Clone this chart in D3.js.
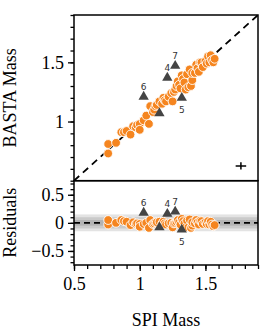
<!DOCTYPE html>
<html><head><meta charset="utf-8">
<script src="https://cdn.jsdelivr.net/npm/d3@7"></script>
<style>body{margin:0;background:#fff}svg{display:block}</style>
</head><body>
<svg id="c" width="274" height="335"></svg>
<script>
// ---- data ----
const spiMass = [0.76,0.76,0.82,0.86,0.88,0.90,0.93,0.95,0.97,0.98,1.00,1.00,1.03,1.05,1.07,1.08,1.10,1.11,1.12,1.13,1.15,1.17,1.18,1.19,1.20,1.22,1.24,1.25,1.26,1.27,1.28,1.29,1.30,1.31,1.32,1.33,1.34,1.35,1.36,1.37,1.38,1.39,1.40,1.40,1.42,1.43,1.44,1.45,1.46,1.47,1.48,1.50,1.51,1.52,1.53,1.54,1.55,1.56,1.57];
const bastaMass = [0.73,0.81,0.82,0.91,0.91,0.92,0.89,0.96,0.95,0.97,0.98,0.93,1.01,1.05,0.98,1.13,1.08,1.10,1.13,1.14,1.17,1.15,1.20,1.18,1.17,1.21,1.24,1.17,1.25,1.27,1.30,1.34,1.31,1.28,1.39,1.36,1.33,1.27,1.40,1.29,1.44,1.30,1.35,1.41,1.41,1.48,1.45,1.42,1.50,1.50,1.46,1.51,1.49,1.55,1.50,1.56,1.52,1.50,1.53];
const outlierSpi = [1.21, 1.32, 1.03, 1.27, 1.15];
const outlierBasta = [1.37, 1.20, 1.21, 1.47, 1.07];
const outlierLabels = ["4", "5", "6", "7", ""];
const typicalErr = {x: 1.77, y: 0.625, ex: 0.04, ey: 0.031};
const xMajor = [0.5, 1, 1.5];
const yMajor = [1, 1.5];
const rMajor = [-0.5, 0, 0.5];
const bandWidths = [0.15, 0.1, 0.05];

// ---- styles / layout ----
const L = 74, R = 258, T1 = 15, B1 = 180.7, B2 = 265;
const orange = "#f5851f", dark = "#444444";
const labelBelow = {"5": true};
const serif = "'Liberation Serif','Times New Roman',serif";

const svg = d3.select("#c");
const x = d3.scaleLinear([0.5, 1.9], [L, R]);
const y = d3.scaleLinear([0.5, 1.9], [B1, T1]);
const yr = d3.scaleLinear([-0.75, 0.75], [B2, B1]);

const pts = spiMass.map((s, i) => ({s, b: bastaMass[i], r: bastaMass[i] - s}));
const outs = outlierSpi.map((s, i) => ({s, b: outlierBasta[i], r: outlierBasta[i] - s, lab: outlierLabels[i]}));

const defs = svg.append("defs");
defs.append("clipPath").attr("id","c1").append("rect").attr("x",L).attr("y",T1).attr("width",R-L).attr("height",B1-T1);
defs.append("clipPath").attr("id","c2").append("rect").attr("x",L).attr("y",B1).attr("width",R-L).attr("height",B2-B1);

const rad = 4.4;
// ---- top panel ----
const g1 = svg.append("g").attr("clip-path","url(#c1)");
g1.append("line").attr("x1",x(0.5)).attr("y1",y(0.5)).attr("x2",x(1.9)).attr("y2",y(1.9))
  .attr("stroke","#000").attr("stroke-width",1.8).attr("stroke-dasharray","7,5");
g1.selectAll("circle").data(pts).join("circle")
  .attr("cx",d=>x(d.s)).attr("cy",d=>y(d.b)).attr("r",rad)
  .attr("fill",orange).attr("stroke","#fff").attr("stroke-width",0.9);
const tri = d3.symbol().type(d3.symbolTriangle).size(46);
g1.selectAll("path.t").data(outs).join("path").attr("class","t")
  .attr("transform",d=>`translate(${x(d.s)},${y(d.b)})`).attr("d",tri).attr("fill",dark);
g1.selectAll("text.l").data(outs).join("text").attr("class","l")
  .attr("x",d=>x(d.s)).attr("y",d=>y(d.b)+(labelBelow[d.lab]?15:-7))
  .attr("text-anchor","middle").attr("font-family","'DejaVu Sans',sans-serif").attr("font-size",9)
  .attr("fill","#333").text(d=>d.lab);
g1.append("line").attr("x1",x(typicalErr.x-typicalErr.ex)).attr("x2",x(typicalErr.x+typicalErr.ex))
  .attr("y1",y(typicalErr.y)).attr("y2",y(typicalErr.y)).attr("stroke","#000").attr("stroke-width",1.5);
g1.append("line").attr("x1",x(typicalErr.x)).attr("x2",x(typicalErr.x))
  .attr("y1",y(typicalErr.y-typicalErr.ey)).attr("y2",y(typicalErr.y+typicalErr.ey)).attr("stroke","#000").attr("stroke-width",1.5);

// ---- residual panel ----
const g2 = svg.append("g").attr("clip-path","url(#c2)");
g2.selectAll("rect.band").data(bandWidths).join("rect").attr("class","band")
  .attr("x",L).attr("width",R-L).attr("y",d=>yr(d)).attr("height",d=>yr(-d)-yr(d))
  .attr("fill","#000").attr("fill-opacity",0.11);
g2.append("line").attr("x1",L).attr("x2",R).attr("y1",yr(0)).attr("y2",yr(0))
  .attr("stroke","#000").attr("stroke-width",1.6).attr("stroke-dasharray","6,4");
g2.selectAll("circle").data(pts).join("circle")
  .attr("cx",d=>x(d.s)).attr("cy",d=>yr(d.r)).attr("r",rad)
  .attr("fill",orange).attr("stroke","#fff").attr("stroke-width",0.9);
g2.selectAll("path.t").data(outs).join("path").attr("class","t")
  .attr("transform",d=>`translate(${x(d.s)},${yr(d.r)})`).attr("d",tri).attr("fill",dark);
g2.selectAll("text.l").data(outs).join("text").attr("class","l")
  .attr("x",d=>x(d.s)).attr("y",d=>yr(d.r)+(labelBelow[d.lab]?15:-7))
  .attr("text-anchor","middle").attr("font-family","'DejaVu Sans',sans-serif").attr("font-size",9)
  .attr("fill","#333").text(d=>d.lab);

// ---- frames ----
svg.append("rect").attr("x",L).attr("y",T1).attr("width",R-L).attr("height",B1-T1)
  .attr("fill","none").attr("stroke","#000").attr("stroke-width",1.5);
svg.append("rect").attr("x",L).attr("y",B1).attr("width",R-L).attr("height",B2-B1)
  .attr("fill","none").attr("stroke","#000").attr("stroke-width",1.5);

// ---- axes ----
function styleAxis(g){
  g.select(".domain").remove();
  g.selectAll("line").attr("stroke","#000").attr("stroke-width",1.3);
  g.selectAll("text").attr("font-family",serif).attr("font-size",18).attr("fill","#000");
}
const fmt = d => (d < 0 ? "\u2212" : "") + d3.format("")(Math.abs(d));
svg.append("g").attr("transform",`translate(${L},0)`)
  .call(d3.axisLeft(y).tickValues(d3.range(5,20).map(v=>v/10)).tickSize(3.5).tickFormat("")).call(styleAxis);
svg.append("g").attr("transform",`translate(${L},0)`)
  .call(d3.axisLeft(y).tickValues(yMajor).tickSize(6).tickPadding(4).tickFormat(fmt)).call(styleAxis);
svg.append("g").attr("transform",`translate(${L},0)`)
  .call(d3.axisLeft(yr).tickValues(d3.range(-7,8).map(v=>v/10)).tickSize(3.5).tickFormat("")).call(styleAxis);
svg.append("g").attr("transform",`translate(${L},0)`)
  .call(d3.axisLeft(yr).tickValues(rMajor).tickSize(6).tickPadding(4).tickFormat(fmt)).call(styleAxis);
svg.append("g").attr("transform",`translate(0,${B2})`)
  .call(d3.axisBottom(x).tickValues(d3.range(5,20).map(v=>v/10)).tickSize(4).tickFormat("")).call(styleAxis);
svg.append("g").attr("transform",`translate(0,${B2})`)
  .call(d3.axisBottom(x).tickValues(xMajor).tickSize(6).tickPadding(6).tickFormat(fmt)).call(styleAxis);

// ---- axis titles ----
svg.append("text").attr("transform",`translate(16,${(T1+B1)/2}) rotate(-90)`)
  .attr("text-anchor","middle").attr("font-family",serif).attr("font-size",18).text("BASTA Mass");
svg.append("text").attr("transform",`translate(16,${(B1+B2)/2}) rotate(-90)`)
  .attr("text-anchor","middle").attr("font-family",serif).attr("font-size",18).text("Residuals");
svg.append("text").attr("x",(L+R)/2).attr("y",326)
  .attr("text-anchor","middle").attr("font-family",serif).attr("font-size",18).text("SPI Mass");
</script>
</body></html>
